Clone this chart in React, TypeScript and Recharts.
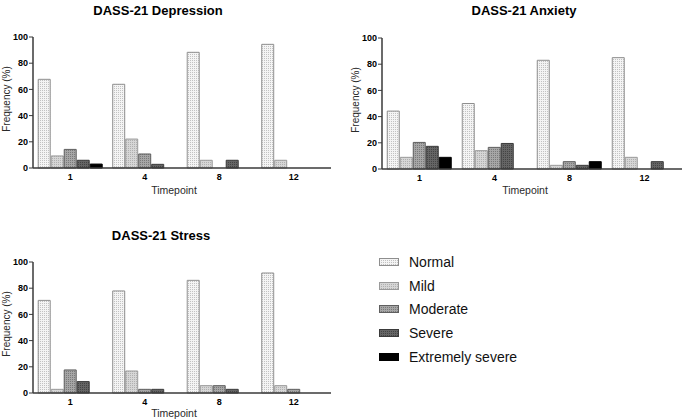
import React from 'react';
import { BarChart, Bar, XAxis, YAxis } from 'recharts';

// timepoints and severity levels
const timepoints = ['1', '4', '8', '12'];
const severityLabels = ['Normal', 'Mild', 'Moderate', 'Severe', 'Extremely severe'];
const yTicks = [0, 20, 40, 60, 80, 100];

// DASS-21 Depression (%)
const depNormal = [67.7, 63.9, 88.3, 94.4];
const depMild = [9.2, 22.1, 5.9, 5.9];
const depModerate = [14.2, 10.7, 0, 0];
const depSevere = [5.9, 2.8, 5.9, 0];
const depExtreme = [3.0, 0, 0, 0];

// DASS-21 Anxiety (%)
const anxNormal = [44.2, 50.0, 83.0, 85.0];
const anxMild = [8.9, 14.0, 2.8, 8.9];
const anxModerate = [20.3, 16.5, 5.6, 0];
const anxSevere = [17.3, 19.5, 2.8, 5.6];
const anxExtreme = [8.9, 0, 5.6, 0];

// DASS-21 Stress (%)
const strNormal = [70.7, 77.9, 86.0, 91.6];
const strMild = [2.8, 16.8, 5.6, 5.6];
const strModerate = [17.6, 2.8, 5.6, 2.8];
const strSevere = [8.7, 2.8, 2.8, 0];
const strExtreme = [0, 0, 0, 0];

const FONT = "'Liberation Sans', Arial, Helvetica, sans-serif";

const keys = ['normal', 'mild', 'moderate', 'severe', 'extreme'];
const patternBg = ['#f4f4f4', '#d6d6d6', '#a6a6a6', '#656565', '#000000'];
const patternDot = ['#c2c2c2', '#b0b0b0', '#7a7a7a', '#444444', '#000000'];
const barStroke = ['#8e8e8e', '#9a9a9a', '#5f5f5f', '#3a3a3a', '#000000'];

const buildRows = (cols: number[][]) =>
  timepoints.map((t, i) => {
    const row: any = { t };
    keys.forEach((k, j) => {
      row[k] = cols[j][i];
    });
    return row;
  });

const depRows = buildRows([depNormal, depMild, depModerate, depSevere, depExtreme]);
const anxRows = buildRows([anxNormal, anxMild, anxModerate, anxSevere, anxExtreme]);
const strRows = buildRows([strNormal, strMild, strModerate, strSevere, strExtreme]);

const Patterns = () => (
  <svg width={0} height={0} style={{ position: 'absolute' }}>
    <defs>
      {keys.map((k, i) => (
        <pattern key={k} id={`pat-${k}`} patternUnits="userSpaceOnUse" width={2} height={2}>
          <rect width={2} height={2} fill={patternBg[i]} />
          <rect x={0} y={0} width={1} height={1} fill={patternDot[i]} />
        </pattern>
      ))}
    </defs>
  </svg>
);

const Txt: React.FC<{ x: number; y: number; size: number; bold?: boolean; rotate?: boolean; children: React.ReactNode }> = ({
  x, y, size, bold, rotate, children
}) => (
  <div
    style={{
      position: 'absolute',
      left: x,
      top: y,
      transform: `translate(-50%, -50%)${rotate ? ' rotate(-90deg)' : ''}`,
      fontFamily: FONT,
      fontSize: size,
      fontWeight: bold ? 'bold' : 'normal',
      color: bold ? '#000' : '#2a2a2a',
      whiteSpace: 'nowrap',
      lineHeight: 1
    }}
  >
    {children}
  </div>
);

interface PanelProps {
  title: string;
  rows: any[];
  left: number;
  top: number;
  width: number;
  rightMargin: number;
  titleX: number;
  titleY: number;
  xTitleX: number;
  xTitleY: number;
}

const Panel: React.FC<PanelProps> = ({ title, rows, left, top, width, rightMargin, titleX, titleY, xTitleX, xTitleY }) => (
  <>
    <div style={{ position: 'absolute', left, top }}>
      <BarChart
        width={width}
        height={200}
        data={rows}
        margin={{ top: 37, right: rightMargin, bottom: 0, left: 0 }}
        barCategoryGap="7%"
        barGap={1}
      >
        <XAxis
          dataKey="t"
          height={32}
          tickLine={false}
          tickSize={3}
          tickMargin={3}
          axisLine={{ stroke: '#3a3a3a', strokeWidth: 1.5 }}
          tick={{ fill: '#000', fontSize: 9, fontWeight: 'bold', fontFamily: FONT }}
        />
        <YAxis
          width={33}
          domain={[0, 100]}
          ticks={yTicks}
          interval={0}
          tickSize={4}
          tickMargin={1}
          axisLine={{ stroke: '#3a3a3a', strokeWidth: 1.5 }}
          tickLine={{ stroke: '#3a3a3a' }}
          tick={{ fill: '#000', fontSize: 9, fontWeight: 'bold', fontFamily: FONT }}
        />
        {keys.map((k, i) => (
          <Bar
            key={k}
            dataKey={k}
            name={severityLabels[i]}
            fill={`url(#pat-${k})`}
            stroke={barStroke[i]}
            strokeWidth={1}
            isAnimationActive={false}
          />
        ))}
      </BarChart>
    </div>
    <Txt x={titleX} y={titleY} size={13} bold>
      {title}
    </Txt>
    <Txt x={left + 7} y={top + 99} size={10} rotate>
      Frequency (%)
    </Txt>
    <Txt x={xTitleX} y={xTitleY} size={10.5}>
      Timepoint
    </Txt>
  </>
);

const Legend = () => (
  <div style={{ position: 'absolute', left: 379, top: 250 }}>
    {keys.map((k, i) => (
      <div key={k} style={{ display: 'flex', alignItems: 'center', height: 23.7 }}>
        <svg width={20} height={8} style={{ display: 'block' }}>
          <rect x={0.5} y={0.5} width={19} height={7} fill={`url(#pat-${k})`} stroke={barStroke[i]} />
        </svg>
        <span style={{ marginLeft: 10, fontFamily: FONT, fontSize: 14, color: '#111', lineHeight: 1 }}>
          {severityLabels[i]}
        </span>
      </div>
    ))}
  </div>
);

export default function App() {
  return (
    <div style={{ position: 'absolute', left: 0, top: 0, width: 685, height: 419, background: '#fff', overflow: 'hidden' }}>
      <Patterns />
      <Panel title="DASS-21 Depression" rows={depRows} left={0} top={0} width={340} rightMargin={9}
        titleX={158} titleY={10} xTitleX={174} xTitleY={190} />
      <Panel title="DASS-21 Anxiety" rows={anxRows} left={349} top={1} width={336} rightMargin={3}
        titleX={524} titleY={10} xTitleX={525} xTitleY={190} />
      <Panel title="DASS-21 Stress" rows={strRows} left={0} top={225} width={340} rightMargin={9}
        titleX={161} titleY={235} xTitleX={174} xTitleY={413} />
      <Legend />
    </div>
  );
}
